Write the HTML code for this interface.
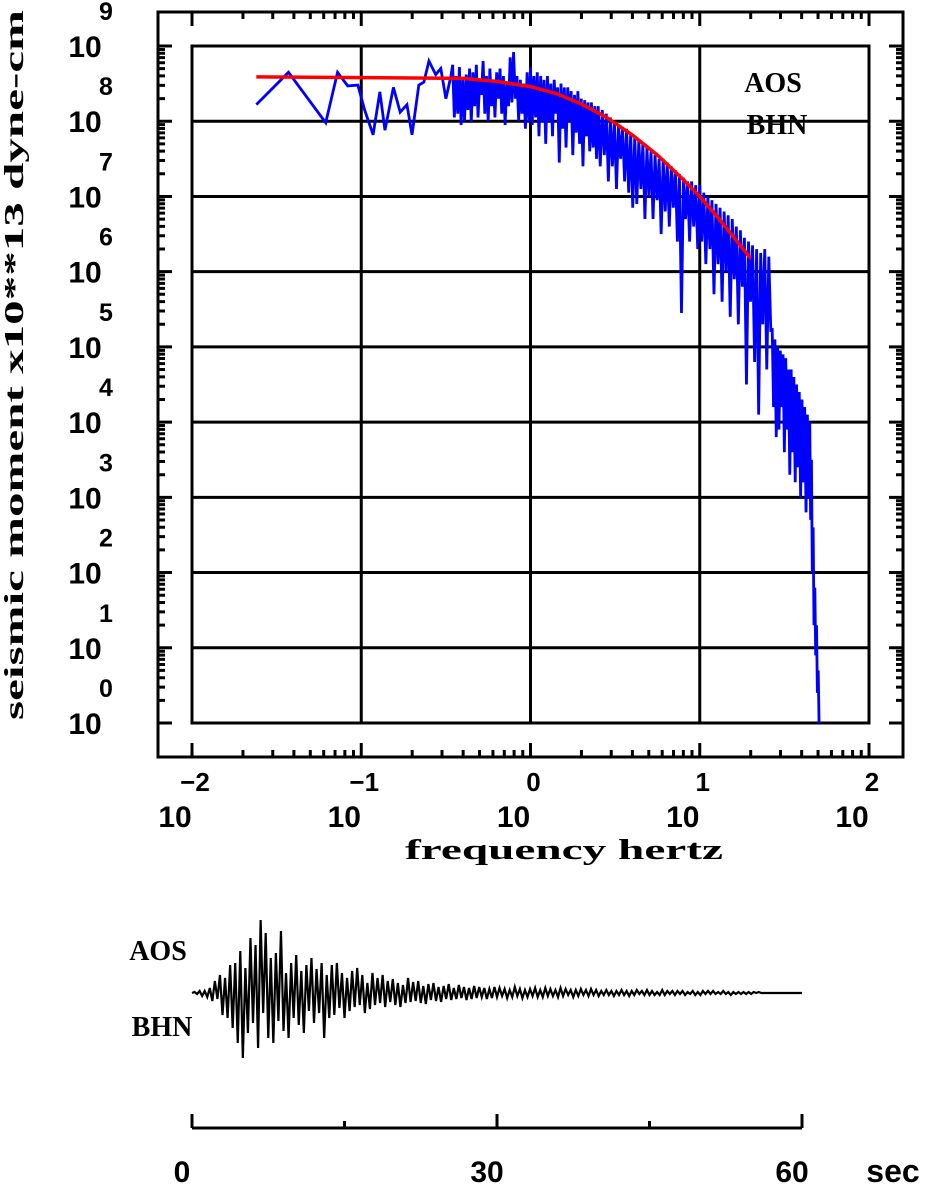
<!DOCTYPE html>
<html><head><meta charset="utf-8"><style>
html,body{margin:0;padding:0;background:#fff;}
svg{display:block;}
text{font-family:"Liberation Sans",sans-serif;font-weight:bold;fill:#000;}
.mono{font-family:"Liberation Mono",monospace;}
.serif{font-family:"Liberation Serif",serif;}
</style></head><body>
<svg id="c" width="928" height="1184" viewBox="0 0 928 1184" xmlns="http://www.w3.org/2000/svg">
<g id="frame"></g>
<g id="grid"></g>
<g id="ticks"></g>
<g id="series"></g>
<g id="labels"></g>
<text class="serif" x="0" y="0" font-size="27" text-anchor="middle" textLength="710" lengthAdjust="spacingAndGlyphs" transform="translate(23,365) rotate(-90)">seismic moment x10**13 dyne-cm</text>
<text class="serif" x="564" y="859" font-size="28" text-anchor="middle" textLength="318" lengthAdjust="spacingAndGlyphs">frequency  hertz</text>
<text class="serif" x="773" y="92" font-size="28" text-anchor="middle">AOS</text>
<text class="serif" x="777" y="134" font-size="28" text-anchor="middle">BHN</text>
<text class="serif" x="158" y="960" font-size="28" text-anchor="middle">AOS</text>
<text class="serif" x="162" y="1036" font-size="28" text-anchor="middle">BHN</text>
<g id="trace"></g>
<g id="taxis"></g>
</svg>
<script>
// spectrum data: [log10 frequency (Hz), log10 moment]
const specPoints = [
[-1.62,8.22],[-1.43,8.65],[-1.21,7.98],[-1.14,8.65],[-1.08,8.47],[-1.02,8.48],[-0.98,8.15],[-0.93,7.82],[-0.89,8.39],[-0.86,7.88],[-0.81,8.45],[-0.77,8.12],[-0.73,8.22],[-0.70,7.82],[-0.66,8.48],[-0.63,8.52],[-0.60,8.80],[-0.56,8.62],[-0.53,8.70],[-0.50,8.30],[-0.47,8.6],
[-0.46,8.75],[-0.45,8.05],[-0.44,8.6],[-0.43,8.1],[-0.42,8.72],[-0.41,7.95],[-0.40,8.55],[-0.39,8.0],[-0.38,8.62],[-0.37,8.15],[-0.36,8.7],[-0.35,7.98],[-0.34,8.65],[-0.33,8.2],[-0.32,8.75],[-0.31,8.05],[-0.30,8.55],[-0.29,8.35],[-0.28,8.8],[-0.27,8.1],[-0.26,8.6],[-0.25,8.0],[-0.24,8.7],[-0.23,8.2],[-0.22,8.55],[-0.21,8.05],[-0.20,8.65],[-0.19,8.3],[-0.18,8.7],[-0.17,8.1],[-0.16,8.6],[-0.15,7.95],[-0.14,8.5],[-0.13,8.2],[-0.12,8.85],[-0.11,8.25],[-0.10,8.92],[-0.09,8.3],[-0.08,8.6],[-0.07,8.0],[-0.06,8.55],[-0.05,8.1],[-0.04,8.5],[-0.03,7.9],[-0.02,8.65],[-0.01,8.0],
[0.00,8.72],[0.01,7.95],[0.02,8.6],[0.03,8.05],[0.04,8.65],[0.05,7.8],[0.06,8.6],[0.07,8.0],[0.08,8.55],[0.09,7.7],[0.10,8.6],[0.11,8.0],[0.12,8.5],[0.13,7.8],[0.14,8.55],[0.15,8.1],[0.16,8.45],[0.17,7.45],[0.18,8.5],[0.19,7.9],[0.20,8.45],[0.21,7.65],[0.22,8.45],[0.23,8.0],[0.24,8.4],[0.25,7.55],[0.26,8.35],[0.27,7.85],[0.28,8.4],[0.29,7.7],[0.30,8.3],[0.31,7.4],[0.32,8.28],[0.33,7.8],[0.34,8.25],[0.35,7.6],[0.36,8.25],[0.37,7.65],[0.38,8.2],[0.39,7.5],
[0.40,8.2],[0.412,7.4],[0.424,8.15],[0.436,7.55],[0.448,8.1],[0.46,7.2],[0.472,8.05],[0.484,7.4],[0.496,8.0],[0.508,7.1],[0.52,7.95],[0.532,7.5],[0.544,7.9],[0.556,7.2],[0.568,7.9],[0.58,7.05],[0.592,7.85],[0.604,6.85],[0.616,7.8],[0.628,6.9],[0.64,7.75],[0.652,7.1],[0.664,7.7],[0.676,6.7],[0.688,7.65],[0.70,7.0],[0.712,7.6],[0.724,6.7],[0.736,7.55],[0.748,6.95],[0.76,7.5],[0.772,6.5],[0.784,7.5],[0.796,6.8],[0.808,7.45],[0.82,6.6],[0.832,7.4],[0.844,6.85],[0.856,7.35],[0.868,6.4],[0.88,7.3],[0.892,5.45],[0.904,7.25],[0.916,6.7],[0.928,7.2],[0.94,6.4],[0.952,7.2],[0.964,6.6],[0.976,7.15],[0.988,6.3],
[1.00,7.15],[1.012,6.4],[1.024,7.05],[1.036,6.1],[1.048,7.0],[1.06,6.3],[1.072,6.95],[1.084,5.7],[1.096,6.9],[1.108,6.1],[1.12,6.85],[1.132,5.6],[1.144,6.8],[1.156,6.0],[1.168,6.75],[1.18,5.4],[1.192,6.7],[1.204,5.9],[1.216,6.6],[1.228,5.3],[1.24,6.55],[1.252,5.8],[1.264,6.45],[1.276,4.5],[1.288,6.4],[1.30,5.6],[1.312,6.35],[1.324,4.8],[1.336,6.3],[1.348,4.1],[1.36,6.25],[1.372,5.3],[1.384,6.3],[1.396,4.7],[1.408,6.2],[1.42,5.2],
[1.428,5.25],[1.436,4.2],[1.444,5.1],[1.452,3.8],[1.46,5.0],[1.468,3.9],[1.476,4.95],[1.484,4.2],[1.492,4.9],[1.50,3.6],[1.508,4.85],[1.516,3.9],[1.524,4.7],[1.532,3.3],[1.54,4.7],[1.548,3.6],[1.556,4.6],[1.564,3.2],[1.572,4.5],[1.58,3.4],[1.588,4.4],[1.596,3.0],[1.604,4.3],[1.612,3.2],[1.62,4.2],[1.628,2.8],[1.636,4.1],[1.644,3.0],
[1.65,4.0],[1.655,2.7],[1.66,3.5],[1.665,2.0],[1.67,2.6],[1.675,1.3],[1.68,1.8],[1.685,0.9],[1.69,1.3],[1.695,0.4],[1.70,0.7],[1.705,0.0]
];
// source model fit (red)
const fitLogF = [-1.62,-0.40,-0.20,0.00,0.15,0.30,0.45,0.60,0.75,0.90,1.00,1.10,1.20,1.30];
const fitLogA = [8.59,8.57,8.53,8.46,8.37,8.23,8.05,7.82,7.55,7.23,7.00,6.74,6.46,6.18];
// seismogram (0.25 s samples, pixel-scaled amplitude)
const traceDt = 0.25;
const traceAmp = [0,1,-1,2,-3,2,-4,5, -8,12,-6,18,-22,15,-25,28, -35,30,-50,42,-65,25,-40,55, -30,48,-55,73,-20,60,-45,35, -50,40,-28,62,-38,20,-45,30, -25,38,-32,22,-40,28,-18,35, -30,24,-20,30,-45,18,-25,28, -22,30,-15,20,-25,15,-18,22, -14,25,-12,18,-20,10,-16,20, -12,15,-10,18,-14,12,-9,14, -12,10,-14,8,-10,15,-9,11, -8,12,-10,7,-11,9,-7,10, -8,6,-9,7,-6,9,-7,5, -6,8,-5,6,-7,5,-6,7, -5,6,-4,5,-6,4,-5,6,
-4,5,-3,4,-5,3,-4,6,-3,4,-5,3,-4,4,-3,5,-4,3,-4,5,-3,4,-3,3,-4,5,-3,4,-2,3,-4,3,-3,4,-2,3,-3,4,-2,3,
-3,2,-2,3,-2,2,-3,2,-2,3,-2,2,-3,2,-2,3,-1,2,-2,3,-2,2,-2,1,-2,3,-2,2,-1,2,-2,2,-1,2,-2,1,-1,2,-2,1,-2,2,-1,2,-1,2,-1,1,
-1,2,-1,1,-2,1,-1,1,-1,1,-1,1,-1,1,0,1,
0,0,0,0,0,0,0,0,0,0,0,0,0,0,0,0];
const xDecades = ["-2","-1","0","1","2"];
const yDecades = ["0","1","2","3","4","5","6","7","8","9"];
const timeTicks = ["0","30","60"];

const NS="http://www.w3.org/2000/svg";
const X0=192,X1=869,Y0=46,Y1=723;
const xs = lf => X0 + (lf+2)*(X1-X0)/4;
const ys = la => Y1 - la*(Y1-Y0)/9;
function mk(tag, attrs, parent){const e=document.createElementNS(NS,tag);for(const k in attrs)e.setAttribute(k,attrs[k]);parent.appendChild(e);return e;}
const G=id=>document.getElementById(id);

let r=mk('rect',{x:158,y:12,width:745,height:745,fill:'none',stroke:'#000','stroke-width':3},G('frame'));


r=mk('rect',{x:X0,y:Y0,width:X1-X0,height:Y1-Y0,fill:'none',stroke:'#000','stroke-width':3},G('frame'));


for(let d=-1; d<=1; d++){const l=mk('line',{x1:xs(d),x2:xs(d),y1:Y0,y2:Y1,stroke:'#000','stroke-width':3},G('grid'));

}
for(let d=1; d<=8; d++){const l=mk('line',{x1:X0,x2:X1,y1:ys(d),y2:ys(d),stroke:'#000','stroke-width':3},G('grid'));

}
let tp='';
for(let d=-2; d<=2; d++){
  for(let m=1; m<=9; m++){
    if(d===2 && m>1) break;
    const x=xs(d+Math.log10(m)); const L=(m===1)?14:7;
    tp+=`M${x},12V${12+L}M${x},757V${757-L}`;
  }
}
for(let d=0; d<=9; d++){
  for(let m=1; m<=9; m++){
    if(d===9 && m>1) break;
    const y=ys(d+Math.log10(m)); const L=(m===1)?14:7;
    tp+=`M158,${y}H${158+L}M903,${y}H${903-L}`;
  }
}
let tk=mk('path',{d:tp,stroke:'#000','stroke-width':3,fill:'none'},G('ticks'));


xDecades.forEach((e,i)=>{const x=xs(i-2);
  let t=mk('text',{x:x+3,y:791,'font-size':26,'text-anchor':'middle'},G('labels'));t.textContent=e.replace('-','\u2212');
  
  
  t=mk('text',{x:x-17,y:827,'font-size':30,'text-anchor':'middle'},G('labels'));t.textContent='10';
  
  
});
yDecades.forEach((e,i)=>{const y=ys(i);
  let t=mk('text',{x:85,y:y+11,'font-size':30,'text-anchor':'middle'},G('labels'));t.textContent='10';
  
  
  t=mk('text',{x:106,y:y-26,'font-size':25,'text-anchor':'middle'},G('labels'));t.textContent=e;
  
  
});
let p=mk('polyline',{points:specPoints.map(q=>xs(q[0])+','+ys(q[1])).join(' '),fill:'none',stroke:'#0000ff','stroke-width':2.8,'stroke-linejoin':'miter'},G('series'));


p=mk('polyline',{points:fitLogF.map((f,i)=>xs(f)+','+ys(fitLogA[i])).join(' '),fill:'none',stroke:'#ff0000','stroke-width':3.5},G('series'));


const TX0=192,TX1=802,TY=993;
const tx=t=>TX0+t*(TX1-TX0)/60;
p=mk('polyline',{points:traceAmp.map((a,i)=>tx(i*traceDt)+','+(TY-a)).join(' ')+' '+tx(60)+','+TY,fill:'none',stroke:'#000','stroke-width':2.2},G('trace'));


let ta=`M${tx(0)},1128H${tx(60)}`;
[0,15,30,45,60].forEach(s=>{ta+=`M${tx(s)},1128V${s%30===0?1114:1121}`;});
p=mk('path',{d:ta,stroke:'#000','stroke-width':3,fill:'none'},G('taxis'));


timeTicks.forEach(s=>{const t=mk('text',{x:tx(+s)-10,y:1182,'font-size':30,'text-anchor':'middle'},G('taxis'));t.textContent=s;
  
  });
let st=mk('text',{x:893,y:1182,'font-size':32,'text-anchor':'middle'},G('taxis'));st.textContent='sec';


</script>
</body></html>
